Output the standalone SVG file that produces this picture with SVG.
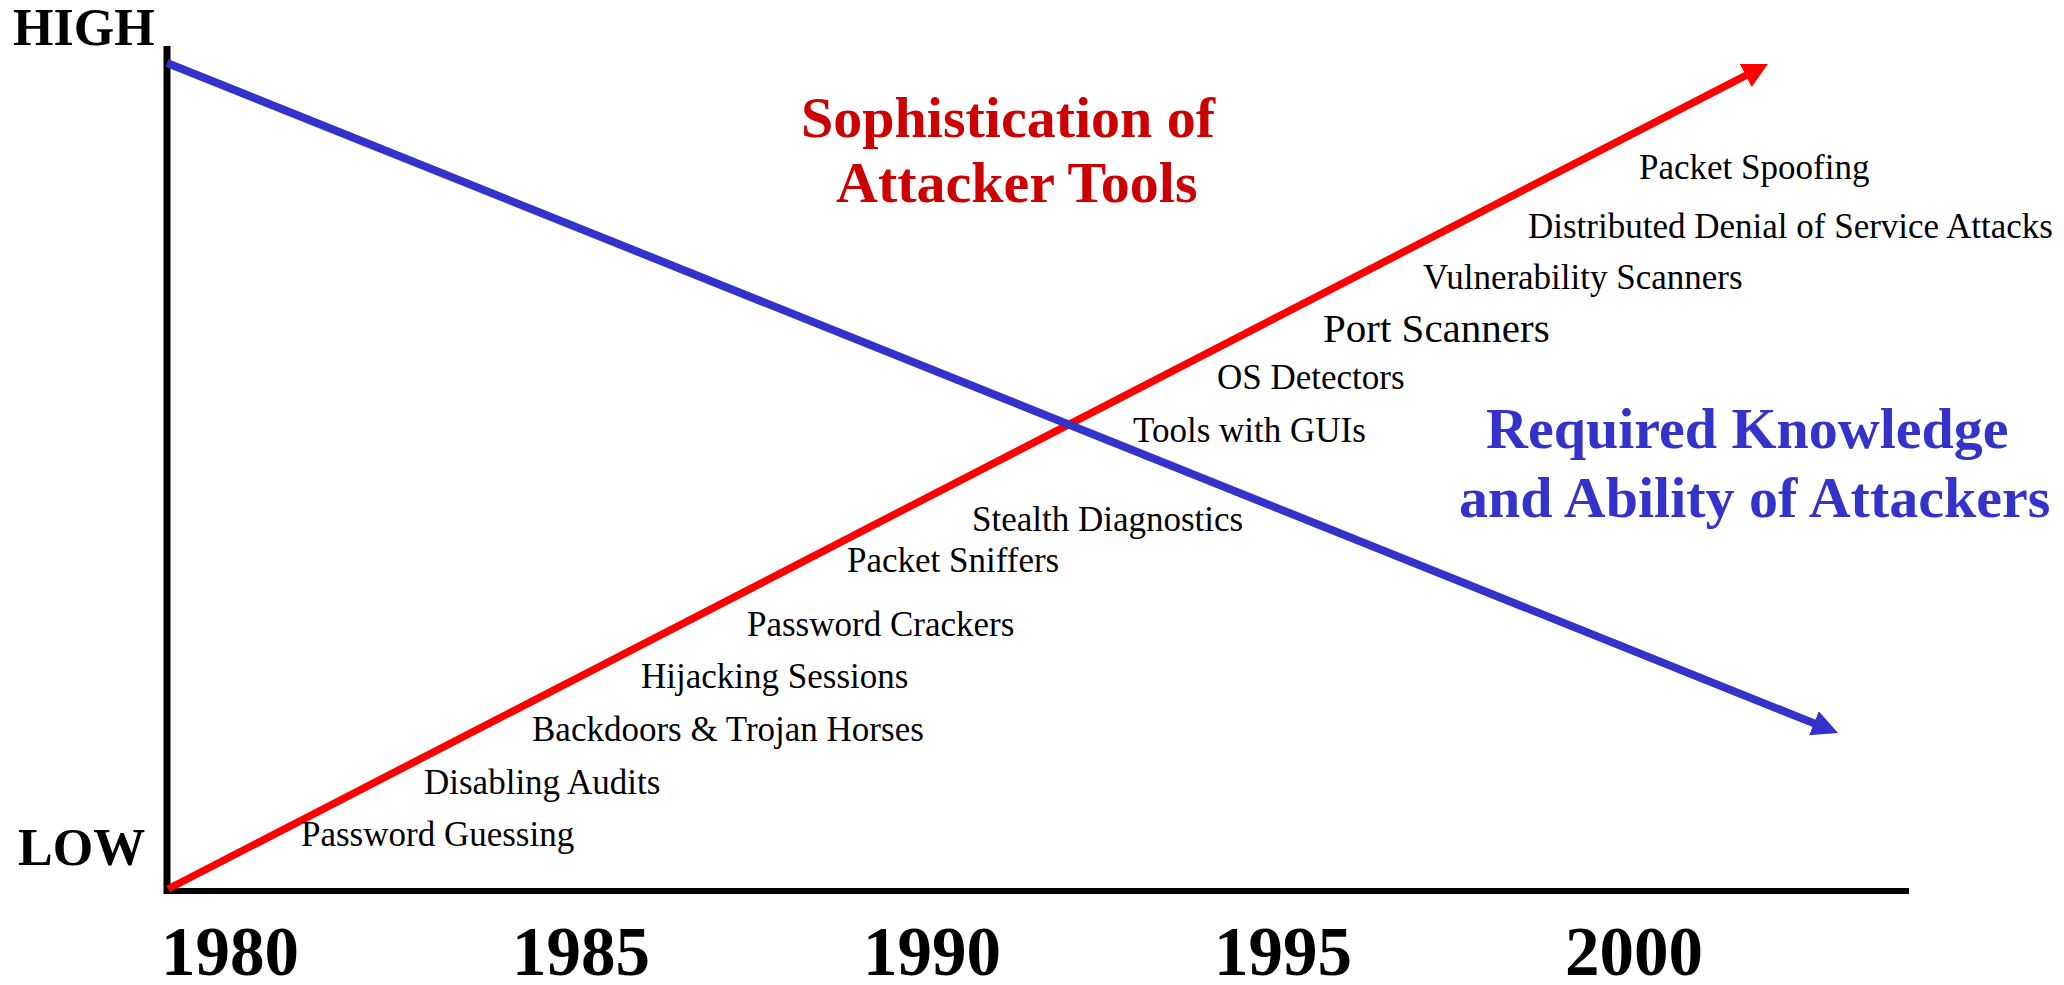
<svg xmlns="http://www.w3.org/2000/svg" width="2064" height="985" viewBox="0 0 2064 985">
<style>
.lbl{font-family:"Liberation Serif","Times New Roman",serif;font-size:35px;fill:#000}
.big{font-family:"Liberation Serif","Times New Roman",serif;font-size:52px;font-weight:bold;fill:#000}
.yr{font-family:"Liberation Serif","Times New Roman",serif;font-size:69px;font-weight:bold;fill:#000;text-anchor:middle}
.ttl{font-family:"Liberation Serif","Times New Roman",serif;font-size:58px;font-weight:bold}
.axis{stroke:#000;fill:none}
</style>
<defs>
<marker id="headRed" markerUnits="userSpaceOnUse" markerWidth="26" markerHeight="26" refX="3" refY="13" orient="auto" viewBox="0 0 26 26">
<path d="M0,0 L25,13 L0,26 z" fill="#FF0000"/>
</marker>
<marker id="headBlue" markerUnits="userSpaceOnUse" markerWidth="27" markerHeight="26" refX="3" refY="13" orient="auto" viewBox="0 0 27 26">
<path d="M0,0 L26,13 L0,26 z" fill="#3333CC"/>
</marker>
</defs>
<rect width="2064" height="985" fill="#fff"/>
<g id="axes">
<line class="axis" x1="167" y1="46" x2="167" y2="894" stroke-width="7"/>
<line class="axis" x1="164" y1="891" x2="1909" y2="891" stroke-width="6"/>
</g>
<g id="connectors">
<line x1="168" y1="889" x2="1748.4" y2="74.1" stroke="#FF0000" stroke-width="7.5" marker-end="url(#headRed)"/>
<line x1="167" y1="63" x2="1816.7" y2="724.4" stroke="#3333CC" stroke-width="8" marker-end="url(#headBlue)"/>
</g>
<g id="axis-labels">
<text class="big" x="13" y="45">HIGH</text>
<text class="big" x="18" y="865">LOW</text>
<text class="yr" x="230" y="975">1980</text>
<text class="yr" x="581" y="975">1985</text>
<text class="yr" x="932" y="975">1990</text>
<text class="yr" x="1283" y="975">1995</text>
<text class="yr" x="1634" y="975">2000</text>
</g>
<g id="title-sophistication">
<text class="ttl" fill="#CC0000" x="801" y="137">Sophistication of</text>
<text class="ttl" fill="#CC0000" x="836" y="202">Attacker Tools</text>
</g>
<g id="title-knowledge">
<text class="ttl" fill="#3333CC" x="1486" y="448">Required Knowledge</text>
<text class="ttl" fill="#3333CC" x="1459" y="517">and Ability of Attackers</text>
</g>
<g id="tool-packet-spoofing"><text class="lbl" x="1639" y="179">Packet Spoofing</text></g>
<g id="tool-ddos"><text class="lbl" x="1528" y="238">Distributed Denial of Service Attacks</text></g>
<g id="tool-vuln-scanners"><text class="lbl" x="1423" y="289">Vulnerability Scanners</text></g>
<g id="tool-port-scanners"><text class="lbl" x="1323" y="342" style="font-size:41px">Port Scanners</text></g>
<g id="tool-os-detectors"><text class="lbl" x="1217" y="389">OS Detectors</text></g>
<g id="tool-guis"><text class="lbl" x="1133" y="442">Tools with GUIs</text></g>
<g id="tool-stealth"><text class="lbl" x="972" y="531">Stealth Diagnostics</text></g>
<g id="tool-sniffers"><text class="lbl" x="847" y="572">Packet Sniffers</text></g>
<g id="tool-crackers"><text class="lbl" x="747" y="636">Password Crackers</text></g>
<g id="tool-hijacking"><text class="lbl" x="641" y="688">Hijacking Sessions</text></g>
<g id="tool-backdoors"><text class="lbl" x="532" y="741">Backdoors &amp; Trojan Horses</text></g>
<g id="tool-audits"><text class="lbl" x="424" y="794">Disabling Audits</text></g>
<g id="tool-guessing"><text class="lbl" x="301" y="846">Password Guessing</text></g>
</svg>
